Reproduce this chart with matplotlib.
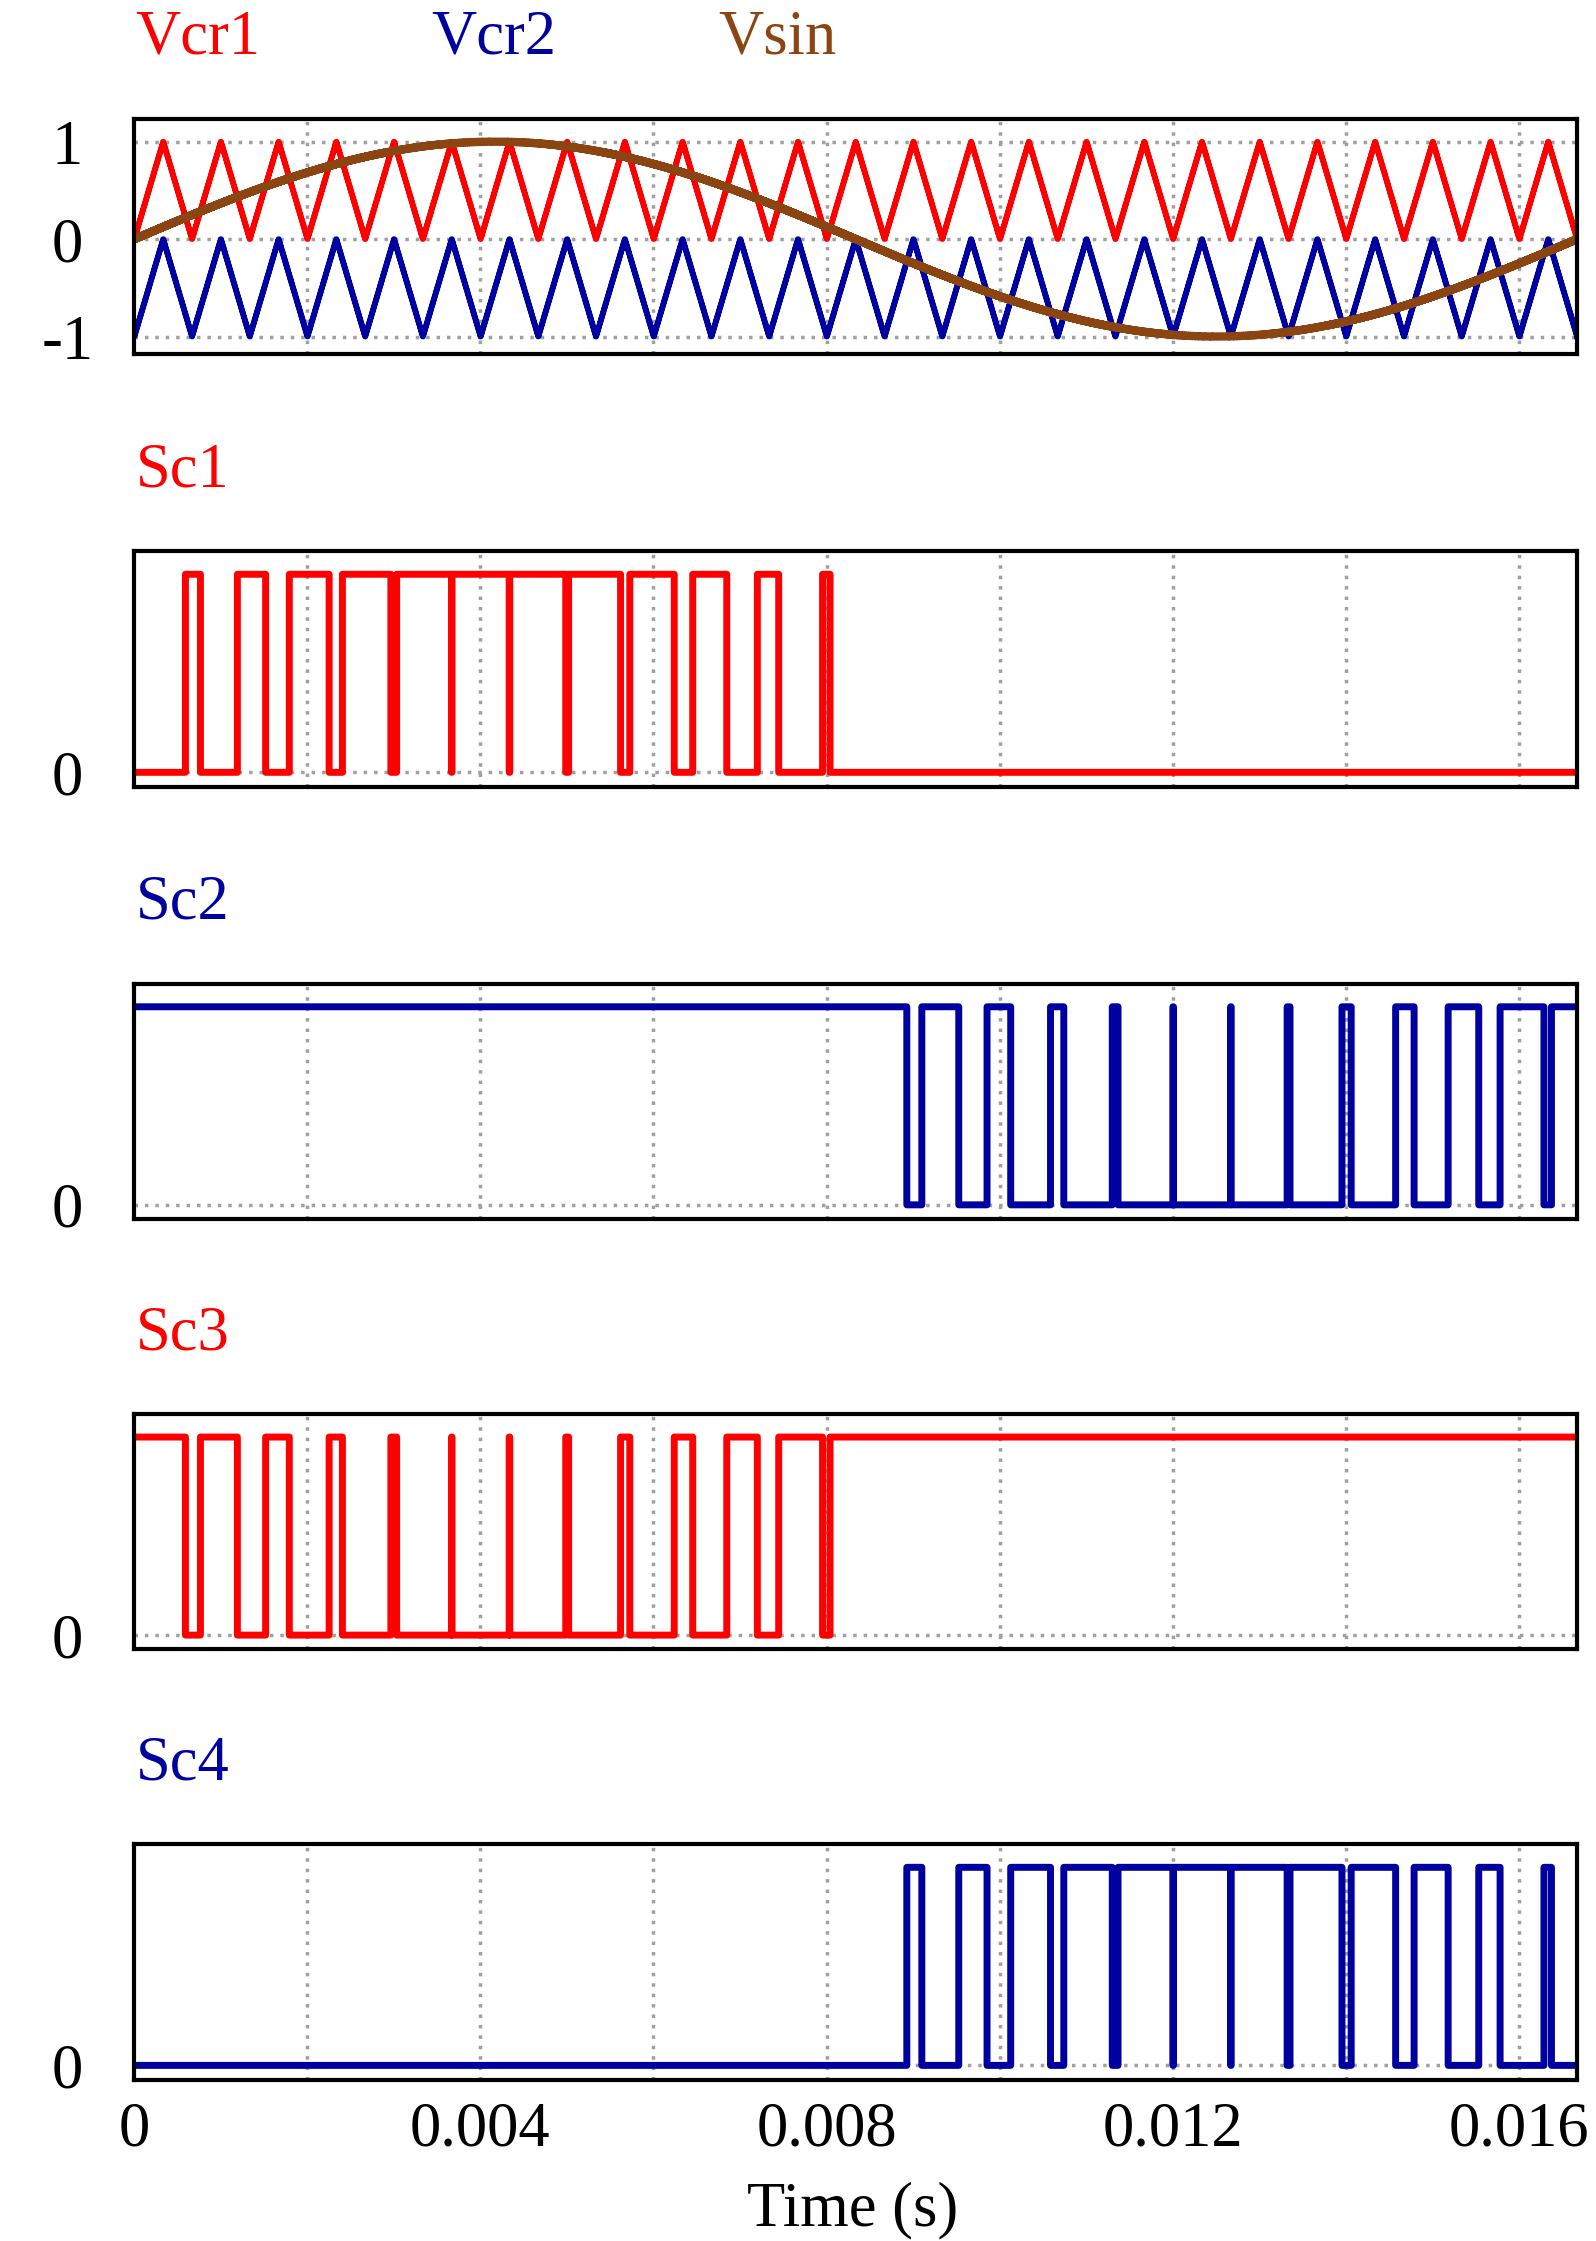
import numpy as np
import matplotlib
matplotlib.use("Agg")
import matplotlib.pyplot as plt

# model parameters
f_sin = 60.0          # Hz, modulating wave
f_car = 1500.0        # Hz, triangular carriers
m_amp = 1.0           # modulation amplitude
t_end = 1/60
steps_per_carrier = 100
x_ticks = [0, 0.004, 0.008, 0.012, 0.016]
x_tick_labels = ["0", "0.004", "0.008", "0.012", "0.016"]
grid_x = [0.002, 0.004, 0.006, 0.008, 0.010, 0.012, 0.014, 0.016]

dt = 1/(f_car*steps_per_carrier)
n = int(round(t_end/dt))
t = np.arange(n + 1) * dt
k = np.arange(n + 1) % steps_per_carrier
ph = k / steps_per_carrier
tri = np.where(ph < 0.5, 2*ph, 2 - 2*ph)
vcr1 = tri
vcr2 = tri - 1
vsin = m_amp*np.sin(2*np.pi*f_sin*t)
sc1 = ((vsin >= vcr1) & (vsin > 1e-9)).astype(float)
sc3 = 1 - sc1
sc2 = (vsin > vcr2).astype(float)
sc4 = 1 - sc2

RED = "#ff0000"; BLUE = "#0000a0"; BROWN = "#8b4513"
plt.rcParams['font.family'] = ['Liberation Serif', 'DejaVu Serif']
fig = plt.figure(figsize=(15.96, 22.41), dpi=100)
L, W, H = 0.084, 0.904, 0.105
bottoms = [0.842, 0.649, 0.456, 0.264, 0.072]
FS = 45

def style(ax, ylim, yt, ytl, labels_x=False):
    ax.set_xlim(0, t_end)
    ax.set_ylim(*ylim)
    for s in ax.spines.values():
        s.set_linewidth(3)
    ax.set_yticks(yt)
    ax.set_yticklabels(ytl, fontsize=FS)
    ax.tick_params(length=0, pad=48)
    ax.set_xticks(x_ticks)
    if labels_x:
        ax.set_xticklabels(x_tick_labels, fontsize=FS)
        ax.tick_params(axis='x', pad=16)
    else:
        ax.set_xticklabels([])
    for gx in grid_x:
        ax.axvline(gx, color="#a0a0a0", ls=(0, (1, 2)), lw=2.5, zorder=0)
    for gy in yt:
        ax.axhline(gy, color="#a0a0a0", ls=(0, (1, 2)), lw=2.5, zorder=0)
    for lab in ax.get_yticklabels():
        lab.set_horizontalalignment('center')

ax = fig.add_axes([L, bottoms[0], W, H])
ax.step(t, vcr1, where='post', color=RED, lw=4)
ax.step(t, vcr2, where='post', color=BLUE, lw=4)
ax.step(t, vsin, where='post', color=BROWN, lw=6)
style(ax, (-1.18, 1.235), [-1, 0, 1], ["-1", "0", "1"])
fig.text(0.085, 0.976, "Vcr1", color=RED, fontsize=FS)
fig.text(0.270, 0.976, "Vcr2", color=BLUE, fontsize=FS)
fig.text(0.450, 0.976, "Vsin", color=BROWN, fontsize=FS)

sigs = [(sc1, RED, "Sc1"), (sc2, BLUE, "Sc2"), (sc3, RED, "Sc3"), (sc4, BLUE, "Sc4")]
title_y = [0.783, 0.590, 0.398, 0.206]
for i, (s, c, name) in enumerate(sigs):
    a = fig.add_axes([L, bottoms[i+1], W, H])
    a.step(t, s, where='post', color=c, lw=5)
    style(a, (-0.072, 1.116), [0], ["0"], labels_x=(i == 3))
    fig.text(0.085, title_y[i], name, color=c, fontsize=FS)

fig.text(0.534, 0.007, "Time (s)", fontsize=FS, ha='center')
fig.savefig("out.png", dpi=100)
